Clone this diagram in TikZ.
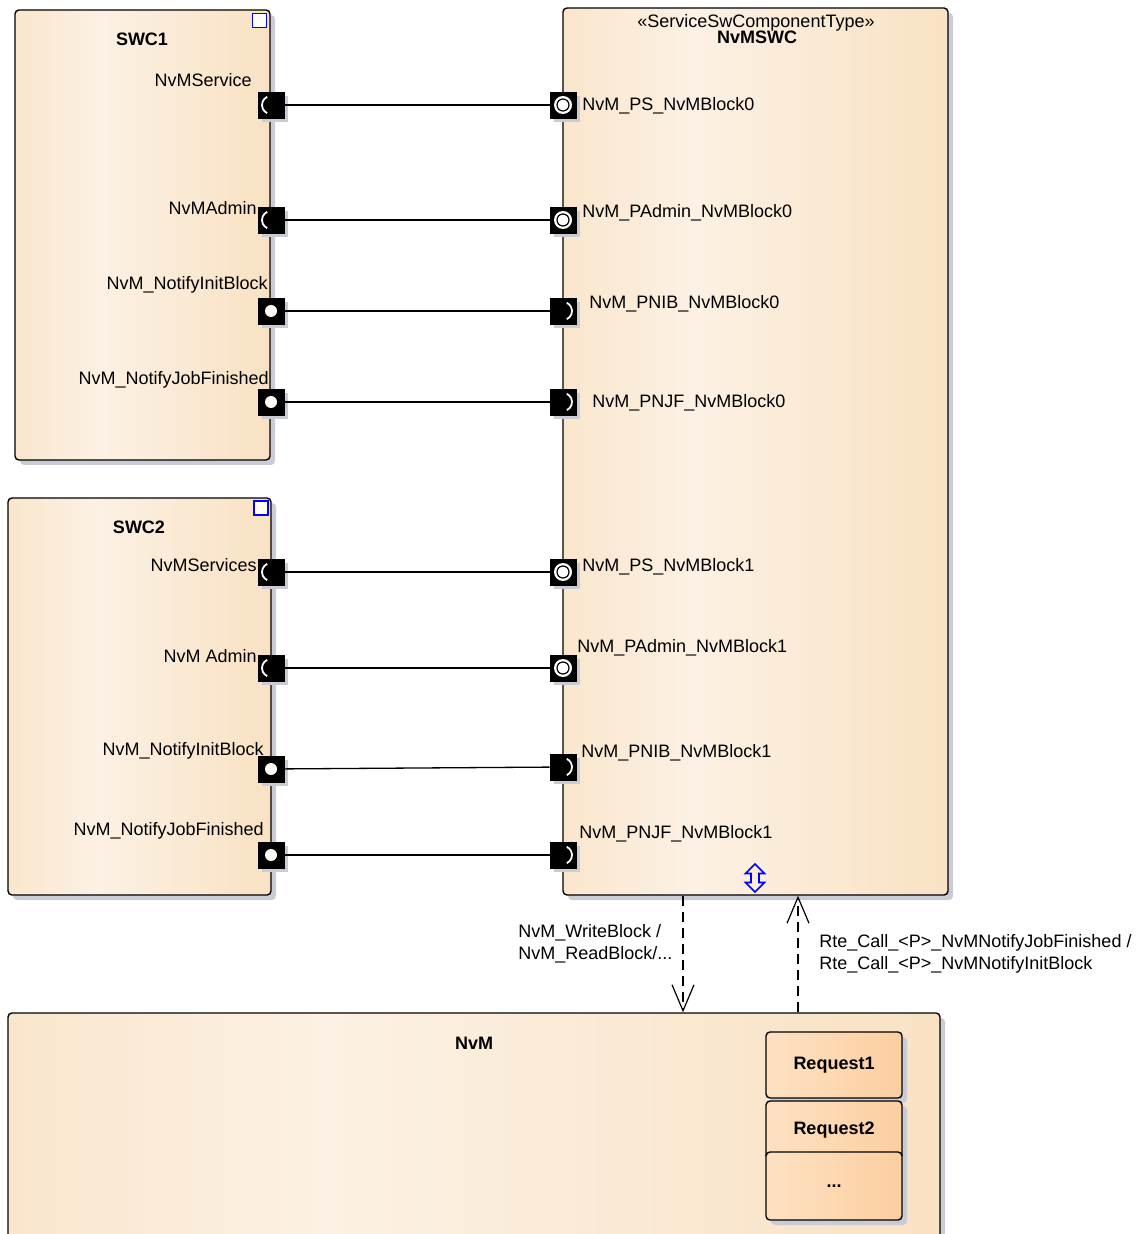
\documentclass[tikz,border=0pt]{standalone}
\usepackage{fontspec}
\setmainfont{Liberation Sans}
\usetikzlibrary{arrows.meta,positioning,shadows}
\definecolor{compdark}{HTML}{F6D6AA}
\definecolor{complight}{HTML}{FCF1E4}
\definecolor{reqdark}{HTML}{FBC58F}
\definecolor{reqlight}{HTML}{FEE3C6}
\definecolor{shadowgray}{HTML}{C9CCD4}
\definecolor{iconblue}{HTML}{0000FF}
\pgfdeclarehorizontalshading{compshade}{100bp}{color(0bp)=(compdark); color(42bp)=(complight); color(100bp)=(compdark)}
\pgfdeclarehorizontalshading{reqshade}{100bp}{color(0bp)=(reqdark); color(20bp)=(reqlight); color(100bp)=(reqdark)}

\begin{document}
\begin{tikzpicture}[x=0.5pt,y=-0.5pt,font=\fontsize{9}{11}\selectfont,
  comp/.style={draw,line width=0.7pt,rounded corners=2pt,shading=compshade,inner sep=0pt,
    drop shadow={shadow xshift=2.5pt,shadow yshift=-2.5pt,fill=shadowgray,opacity=1}},
  req/.style={comp,shading=reqshade,minimum width=68pt,font=\fontsize{9}{11}\selectfont\bfseries},
  port/.style={draw,fill=black,minimum size=13pt,inner sep=0pt,
    drop shadow={shadow xshift=2pt,shadow yshift=-2pt,fill=shadowgray,opacity=1}},
  reqp/.style={port,path picture={\draw[white,line width=0.9pt,x=1pt,y=1pt]([shift={(115:4.5)}]path picture bounding box.center) arc[start angle=115,end angle=245,radius=4.5];}},
  provp/.style={port,path picture={\draw[white,line width=0.9pt,x=1pt,y=1pt]([shift={(-65:4.5)}]path picture bounding box.center) arc[start angle=-65,end angle=65,radius=4.5];}},
  dotp/.style={port,path picture={\fill[white,x=1pt,y=1pt](path picture bounding box.center) circle[radius=3];}},
  ringp/.style={port,path picture={\fill[white,x=1pt,y=1pt](path picture bounding box.center) circle[radius=4.5];
    \draw[line width=0.6pt,fill=white,x=1pt,y=1pt](path picture bounding box.center) circle[radius=3];}},
  icon/.style={draw=iconblue,fill=white,line width=0.8pt,minimum size=7pt,inner sep=0pt},
  lbl/.style={inner sep=0pt}, ttl/.style={inner sep=0pt,font=\fontsize{9}{11}\selectfont\bfseries},
  link/.style={line width=0.65pt},
  dep/.style={line width=0.6pt,dash pattern=on 5pt off 3pt,-{Straight Barb[length=13pt,width=11pt]}}]
\useasboundingbox (0,0) rectangle (1142,1234);
\clip (0,0) rectangle (1142,1234);
% components
\node[comp,minimum width=127.5pt,minimum height=225pt] (swc1) at (142.5,235) {};
\node[comp,minimum width=131.5pt,minimum height=198.5pt] (swc2) at (139.5,696.5) {};
\node[comp,minimum width=192.5pt,minimum height=443.5pt] (nvmswc) at (755.5,451.5) {};
\node[comp,minimum width=466pt,minimum height=125pt] (nvm) at (474,1138) {};
\node[ttl] (swc1t) at (142,39) {SWC1};
\node[ttl] (swc2t) at (139,527) {SWC2};
\node[lbl] (stereo) at (756,23) {«ServiceSwComponentType»};
\node[ttl] (nvmswct) at (757,37) {NvMSWC};
\node[ttl] (nvmt) at (474,1043) {NvM};
\node[icon] (swc1i) at (259.5,20.5) {};
\node[icon] (swc2i) at (261,508) {};
\draw[iconblue,line width=0.8pt] (755,864)--(745.5,873.5)--(751,873.5)--(751,882.5)--(745.5,882.5)--(755,892)
  --(764.5,882.5)--(759,882.5)--(759,873.5)--(764.5,873.5)--cycle;
% requests
\node[req,minimum height=33pt] (req1) at (834,1065) {Request1};
\node[req,minimum height=29pt] (req2) at (834,1130) {Request2};
\node[req,minimum height=34pt] (reqn) at (834,1186) {...};
% ports
\foreach \n/\y/\s in {1/105/reqp,2/220/reqp,3/311/dotp,4/402/dotp,5/572/reqp,6/668/reqp,7/769/dotp,8/855/dotp}
  \node[\s] (a\n) at (271,\y) {};
\foreach \n/\y/\s in {1/105/ringp,2/220/ringp,3/311/provp,4/402/provp,5/572/ringp,6/668/ringp,7/767/provp,8/855/provp}
  \node[\s] (b\n) at (563,\y) {};
\foreach \n in {1,...,8} \draw[link] (a\n) -- (b\n);
% port labels
\foreach \t/\x/\y [count=\i] in {NvMService/252/80,NvMAdmin/257/208,NvM\_NotifyInitBlock/268/285,NvM\_NotifyJobFinished/269/380,
  NvMServices/257/565,NvM Admin/257/656,NvM\_NotifyInitBlock/264/751,NvM\_NotifyJobFinished/264/831}
  \node[lbl,anchor=east] (la\i) at (\x,\y) {\t};
\foreach \t/\x/\y [count=\i] in {NvM\_PS\_NvMBlock0/582/106,NvM\_PAdmin\_NvMBlock0/582/213,NvM\_PNIB\_NvMBlock0/589/304,NvM\_PNJF\_NvMBlock0/592/403,
  NvM\_PS\_NvMBlock1/582/567,NvM\_PAdmin\_NvMBlock1/577/648,NvM\_PNIB\_NvMBlock1/581/753,NvM\_PNJF\_NvMBlock1/579/834}
  \node[lbl,anchor=west] (lb\i) at (\x,\y) {\t};
% calls
\coordinate (wrx) at (683,0); \coordinate (rtex) at (798,0);
\draw[dep] (nvmswc.south -| wrx) -- (nvm.north -| wrx);
\draw[dep] (nvm.north -| rtex) -- (nvmswc.south -| rtex);
\node[lbl,align=left,anchor=west] (wrl) at (518,943.5) {NvM\_WriteBlock /\\NvM\_ReadBlock/...};
\node[lbl,align=left,anchor=west] (rtel) at (819,954) {Rte\_Call\_<P>\_NvMNotifyJobFinished /\\Rte\_Call\_<P>\_NvMNotifyInitBlock};
\end{tikzpicture}
\end{document}
